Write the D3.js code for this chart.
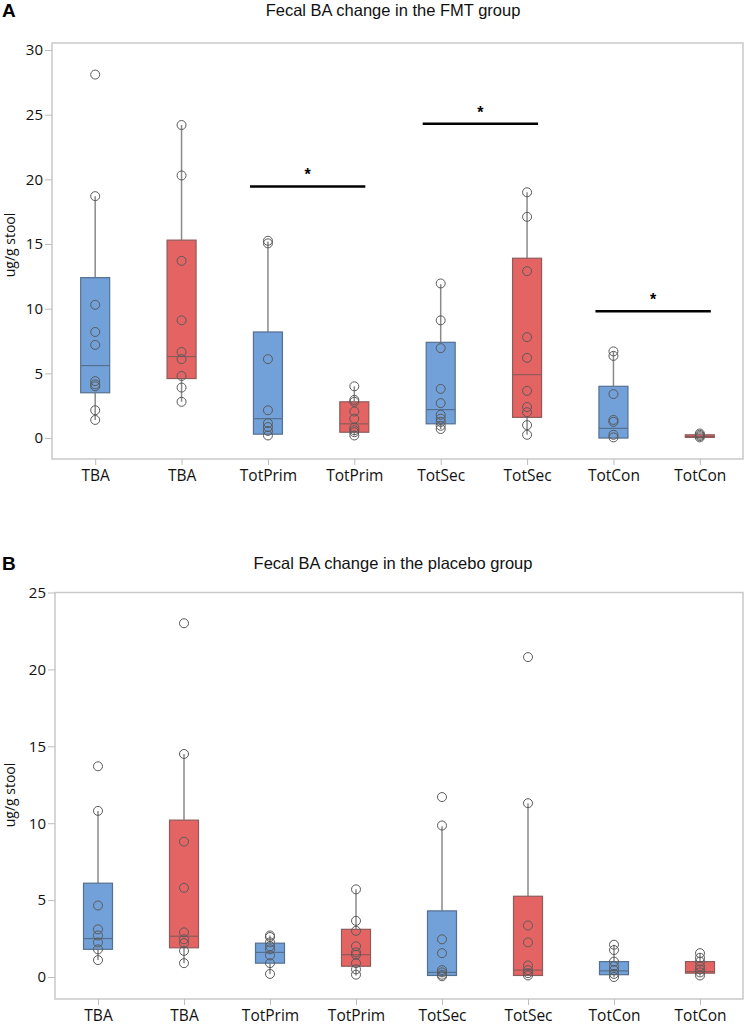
<!DOCTYPE html>
<html><head><meta charset="utf-8">
<script src="https://cdn.jsdelivr.net/npm/d3@7/dist/d3.min.js"></script>
<style>body{margin:0;background:#fff}</style>
</head><body><svg id="c" width="747" height="1027"></svg>
<script>
// ---- data ----
const categories = ["TBA","TBA","TotPrim","TotPrim","TotSec","TotSec","TotCon","TotCon"];
const groups = ["pre","post","pre","post","pre","post","pre","post"];
const yTicksA = [0,5,10,15,20,25,30];
const yTicksB = [0,5,10,15,20,25];

// box stats: [whiskerLow, q1, median, q3, whiskerHigh]
const boxesA = [
  [1.4, 3.5, 5.6, 12.4, 18.7],
  [2.8, 4.6, 6.3, 15.3, 24.2],
  [0.2, 0.3, 1.5, 8.2, 15.2],
  [0.2, 0.45, 1.1, 2.8, 4.0],
  [0.7, 1.1, 2.2, 7.4, 11.9],
  [0.25, 1.6, 4.9, 13.9, 19.0],
  [0.05, 0.0, 0.75, 4.0, 6.7],
  [0.05, 0.05, 0.12, 0.25, 0.35]
];
const pointsA = [
  [28.1, 18.7, 10.3, 8.2, 7.2, 4.4, 4.15, 4.0, 2.15, 1.4],
  [24.2, 20.3, 13.7, 9.1, 6.65, 6.1, 4.8, 3.9, 2.8],
  [15.25, 15.05, 6.1, 2.15, 1.15, 0.85, 0.55, 0.2],
  [4.0, 2.95, 2.8, 2.05, 1.5, 0.8, 0.6, 0.45, 0.2],
  [11.95, 9.1, 6.95, 3.8, 2.7, 1.8, 1.5, 1.25, 0.95, 0.7],
  [19.0, 17.1, 12.9, 7.8, 6.2, 3.65, 2.4, 2.0, 1.0, 0.25],
  [6.7, 6.35, 3.4, 1.4, 1.25, 0.25, 0.05],
  [0.35, 0.25, 0.15, 0.05]
];
const sigA = [
  {from: 2, to: 3, y: 19.45},
  {from: 4, to: 5, y: 24.3},
  {from: 6, to: 7, y: 9.8}
];

const boxesB = [
  [1.1, 1.8, 2.5, 6.1, 10.8],
  [0.9, 1.9, 2.65, 10.2, 14.5],
  [0.2, 0.9, 1.6, 2.2, 2.7],
  [0.1, 0.7, 1.45, 3.1, 5.7],
  [0.0, 0.1, 0.3, 4.3, 9.8],
  [0.1, 0.1, 0.45, 5.25, 11.3],
  [0.0, 0.15, 0.4, 1.0, 2.1],
  [0.1, 0.25, 0.35, 1.0, 1.55]
];
const pointsB = [
  [13.7, 10.8, 4.65, 3.1, 2.7, 2.25, 1.8, 1.1],
  [23.0, 14.5, 8.8, 5.8, 2.9, 2.45, 2.2, 1.7, 0.9],
  [2.7, 2.6, 2.25, 2.0, 1.8, 1.4, 0.9, 0.2],
  [5.7, 3.65, 3.0, 2.0, 1.6, 1.45, 0.9, 0.5, 0.15],
  [11.7, 9.85, 2.45, 1.55, 0.45, 0.3, 0.15, 0.05],
  [20.8, 11.3, 3.35, 2.25, 0.75, 0.45, 0.25, 0.1],
  [2.1, 1.75, 1.0, 0.7, 0.45, 0.2, 0.0],
  [1.55, 1.25, 1.0, 0.7, 0.5, 0.3, 0.1]
];

const colors = {pre: "#72a1d9", post: "#e46464"};
const strokes = {pre: "#55708f", post: "#8f5a5a"};

const svg = d3.select("#c");

function panel(opt) {
  const g = svg.append("g");
  const x = d3.scalePoint().domain(d3.range(categories.length))
    .range([opt.left, opt.right]).padding(0.5);
  const y = d3.scaleLinear().domain(opt.ydom).range([opt.bottom, opt.top]);

  // panel letter & title
  g.append("text").attr("x", 2).attr("y", opt.titleY + 1).attr("font-family", "Liberation Sans, Arial, sans-serif")
    .attr("font-weight", "bold").attr("font-size", 19).text(opt.letter);
  g.append("text").attr("x", 393).attr("y", opt.titleY).attr("text-anchor", "middle")
    .attr("font-family", "Liberation Sans, Arial, sans-serif").attr("font-size", 16.5).attr("fill", "#111").text(opt.title);

  // frame
  g.append("rect").attr("x", opt.left).attr("y", opt.top)
    .attr("width", opt.right - opt.left).attr("height", opt.bottom - opt.top)
    .attr("fill", "none").attr("stroke", "#c9c9c9").attr("stroke-width", 1.5);

  // y axis
  const ya = d3.axisLeft(y).tickValues(opt.yticks).tickSize(7).tickPadding(2).tickFormat(d3.format("d"));
  const yg = g.append("g").attr("transform", `translate(${opt.left},0)`).call(ya);
  yg.select(".domain").remove();
  yg.selectAll(".tick line").attr("stroke", "#bdbdbd");
  yg.selectAll(".tick text").attr("font-family", "Open Sans, Noto Sans, sans-serif").attr("font-size", 15).attr("fill", "#111");

  // x axis
  const xa = d3.axisBottom(x).tickSize(6).tickPadding(5).tickFormat(i => categories[i]);
  const xg = g.append("g").attr("transform", `translate(0,${opt.bottom})`).call(xa);
  xg.select(".domain").remove();
  xg.selectAll(".tick line").attr("stroke", "#bdbdbd");
  xg.selectAll(".tick text").attr("font-family", "Open Sans, Noto Sans, sans-serif").attr("font-size", 15.5).attr("fill", "#111");

  // y label
  g.append("text").attr("transform", `translate(${opt.ylabX},${opt.ylabY}) rotate(-90)`)
    .attr("text-anchor", "middle").attr("font-family", "Open Sans, Noto Sans, sans-serif")
    .attr("font-size", 14).attr("fill", "#111").text("ug/g stool");

  const bw = 29;
  opt.boxes.forEach((b, i) => {
    const cx = x(i), grp = groups[i];
    g.append("line").attr("x1", cx).attr("x2", cx).attr("y1", y(b[3])).attr("y2", y(b[4]))
      .attr("stroke", "#8a8a8a").attr("stroke-width", 1.5);
    g.append("line").attr("x1", cx).attr("x2", cx).attr("y1", y(b[1])).attr("y2", y(b[0]))
      .attr("stroke", "#8a8a8a").attr("stroke-width", 1.5);
    const h = Math.max(y(b[1]) - y(b[3]), 2);
    g.append("rect").attr("x", cx - bw / 2).attr("y", y(b[3])).attr("width", bw).attr("height", h)
      .attr("fill", colors[grp]).attr("stroke", strokes[grp]).attr("stroke-width", 1.2);
    g.append("line").attr("x1", cx - bw / 2).attr("x2", cx + bw / 2).attr("y1", y(b[2])).attr("y2", y(b[2]))
      .attr("stroke", strokes[grp]).attr("stroke-width", 1.2);
  });
  opt.points.forEach((pts, i) => {
    g.selectAll(null).data(pts).enter().append("circle")
      .attr("cx", x(i)).attr("cy", d => y(d)).attr("r", 4.5)
      .attr("fill", "none").attr("stroke", "#5a5a5a").attr("stroke-width", 1);
  });
  (opt.sig || []).forEach(s => {
    const x1 = x(s.from) - 18, x2 = x(s.to) + 11;
    g.append("line").attr("x1", x1).attr("x2", x2).attr("y1", y(s.y)).attr("y2", y(s.y))
      .attr("stroke", "#000").attr("stroke-width", 2.5);
    g.append("text").attr("x", (x1 + x2) / 2).attr("y", y(s.y) - 6).attr("text-anchor", "middle")
      .attr("font-family", "Liberation Sans, Arial, sans-serif").attr("font-weight", "bold").attr("font-size", 16).text("*");
  });
}

panel({letter: "A", title: "Fecal BA change in the FMT group", titleY: 16,
  left: 52, right: 743, top: 43, bottom: 459, ydom: [-1.62, 30.54], yticks: yTicksA,
  ylabX: 15, ylabY: 245, boxes: boxesA, points: pointsA, sig: sigA});
panel({letter: "B", title: "Fecal BA change in the placebo group", titleY: 569,
  left: 55, right: 743, top: 592.5, bottom: 999, ydom: [-1.43, 25], yticks: yTicksB,
  ylabX: 15, ylabY: 795, boxes: boxesB, points: pointsB});
</script></body></html>
